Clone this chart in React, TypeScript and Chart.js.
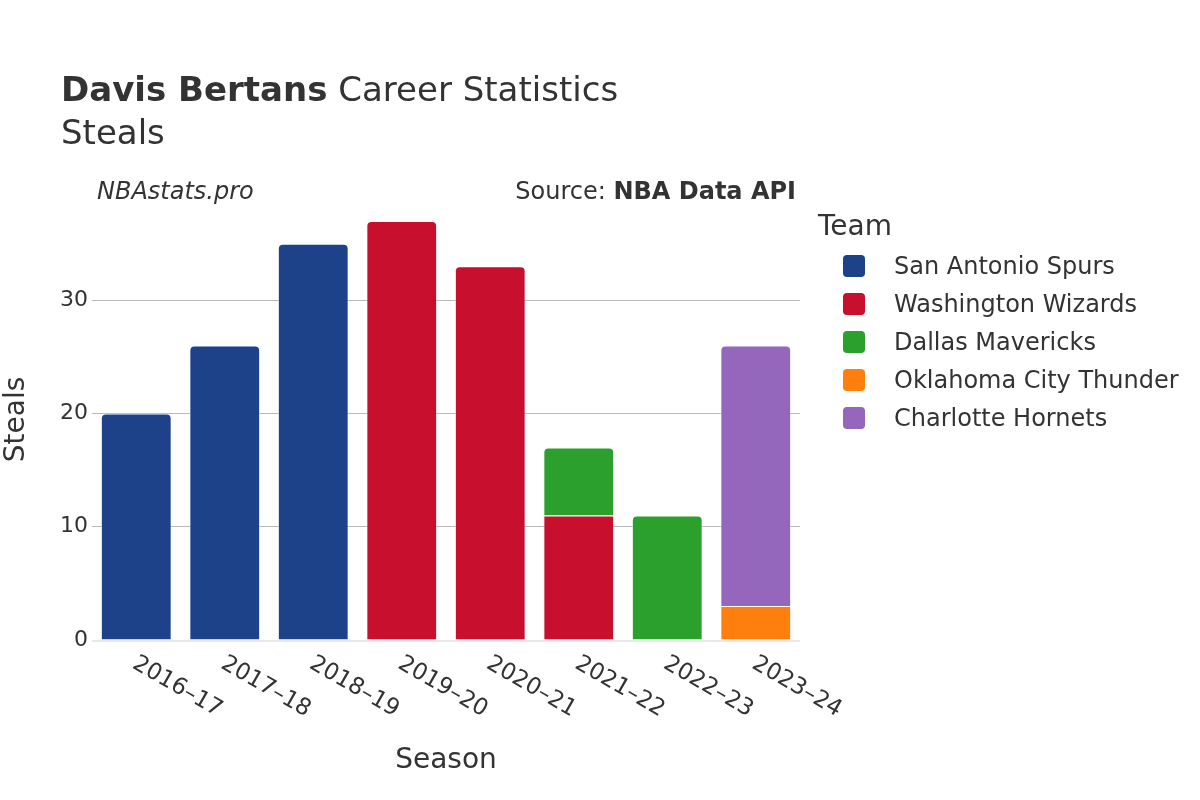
import React, { useEffect, useRef } from "react";
import { Chart, registerables } from "chart.js";

Chart.register(...registerables);

const seasons = ["2016–17", "2017–18", "2018–19", "2019–20", "2020–21", "2021–22", "2022–23", "2023–24"];
const teams = ["San Antonio Spurs", "Washington Wizards", "Dallas Mavericks", "Oklahoma City Thunder", "Charlotte Hornets"];
const teamColors = ["#1D428A", "#C8102E", "#2CA02C", "#FF7F0E", "#9467BD"];
const spursSteals = [20, 26, 35, null, null, null, null, null];
const wizardsSteals = [null, null, null, 37, 33, 11, null, null];
const mavericksSteals = [null, null, null, null, null, 6, 11, null];
const thunderSteals = [null, null, null, null, null, null, null, 3];
const hornetsSteals = [null, null, null, null, null, null, null, 23];
const yTicks = [0, 10, 20, 30];

const seriesValues = [spursSteals, wizardsSteals, mavericksSteals, thunderSteals, hornetsSteals];

const FONT = "'DejaVu Sans', sans-serif";
const TEXT = "#333333";

const overlay = {
  id: "overlay",
  afterDraw(chart: any) {
    const ctx = chart.ctx;
    const x = chart.scales.x;
    const area = chart.chartArea;
    ctx.save();
    ctx.fillStyle = TEXT;
    ctx.textBaseline = "alphabetic";
    // Title
    ctx.textAlign = "left";
    ctx.font = `bold 34px ${FONT}`;
    const t1 = "Davis Bertans";
    ctx.fillText(t1, 61, 101);
    const w1 = ctx.measureText(t1).width;
    ctx.font = `34px ${FONT}`;
    ctx.fillText(" Career Statistics", 61 + w1, 101);
    ctx.fillText("Steals", 61, 144);
    // Source line
    ctx.textBaseline = "middle";
    ctx.font = `italic 24px ${FONT}`;
    ctx.fillText("NBAstats.pro", 97, 193);
    ctx.textAlign = "right";
    ctx.font = `bold 24px ${FONT}`;
    const src = "NBA Data API";
    ctx.fillText(src, 796, 193);
    const w2 = ctx.measureText(src).width;
    ctx.font = `24px ${FONT}`;
    ctx.fillText("Source: ", 796 - w2, 193);
    // zero line
    ctx.strokeStyle = "#e8e8e8";
    ctx.lineWidth = 2;
    ctx.beginPath();
    ctx.moveTo(area.left, chart.scales.y.getPixelForValue(0) + 1);
    ctx.lineTo(area.right, chart.scales.y.getPixelForValue(0) + 1);
    ctx.stroke();
    // x tick labels
    ctx.font = `23px ${FONT}`;
    ctx.textAlign = "left";
    ctx.textBaseline = "middle";
    seasons.forEach((s, i) => {
      const px = x.getPixelForValue(i);
      ctx.save();
      ctx.translate(px - 2, area.bottom + 22);
      ctx.rotate(Math.PI / 6);
      ctx.fillText(s, 0, 0);
      ctx.restore();
    });
    // axis titles
    ctx.font = `28px ${FONT}`;
    ctx.textAlign = "center";
    ctx.fillText("Season", (area.left + area.right) / 2, 761);
    ctx.save();
    ctx.translate(17, (area.top + area.bottom) / 2);
    ctx.rotate(-Math.PI / 2);
    ctx.fillText("Steals", 0, 0);
    ctx.restore();
    // legend
    ctx.textAlign = "left";
    ctx.font = `28px ${FONT}`;
    ctx.fillText("Team", 818, 228);
    ctx.font = `24px ${FONT}`;
    teams.forEach((t, i) => {
      const cy = 266 + i * 38;
      ctx.fillStyle = teamColors[i];
      ctx.beginPath();
      (ctx as any).roundRect(843, cy - 11, 22, 22, 4);
      ctx.fill();
      ctx.fillStyle = TEXT;
      ctx.fillText(t, 894, cy + 2);
    });
    ctx.restore();
  },
};

export default function App() {
  const ref = useRef<HTMLCanvasElement>(null);
  useEffect(() => {
    document.body.style.margin = "0";
    const chart = new Chart(ref.current!, {
      type: "bar",
      data: {
        labels: seasons,
        datasets: teams.map((t, i) => ({
          label: t,
          data: seriesValues[i] as any,
          backgroundColor: teamColors[i],
          borderColor: "rgba(255,255,255,0.55)",
          borderWidth: 1,
          borderRadius: 5,
          barPercentage: 0.8,
          categoryPercentage: 1,
        })),
      },
      options: {
        responsive: false,
        animation: false,
        devicePixelRatio: 1,
        layout: { padding: { top: 199, right: 400, left: 0, bottom: 0 } },
        plugins: { legend: { display: false }, tooltip: { enabled: false }, title: { display: false } },
        scales: {
          x: {
            stacked: true,
            grid: { display: false },
            border: { display: false },
            ticks: { display: false },
            afterFit: (s: any) => { s.height = 160; },
          },
          y: {
            stacked: true,
            min: 0,
            max: 38.95,
            afterBuildTicks: (s: any) => { s.ticks = yTicks.map((v) => ({ value: v })); },
            afterFit: (s: any) => { s.width = 92; },
            grid: {
              color: (c: any) => (c.tick && c.tick.value === 0 ? "rgba(0,0,0,0)" : "#b8b8b8"),
              lineWidth: 1,
              drawTicks: false,
            },
            border: { display: false },
            ticks: { font: { family: FONT, size: 22 }, color: TEXT, padding: 4 },
          },
        },
      },
      plugins: [overlay],
    });
    return () => chart.destroy();
  }, []);
  return (
    <div style={{ position: "absolute", left: 0, top: 0, width: 1200, height: 800, background: "#fff" }}>
      <canvas ref={ref} width={1200} height={800} style={{ width: 1200, height: 800 }} />
    </div>
  );
}
